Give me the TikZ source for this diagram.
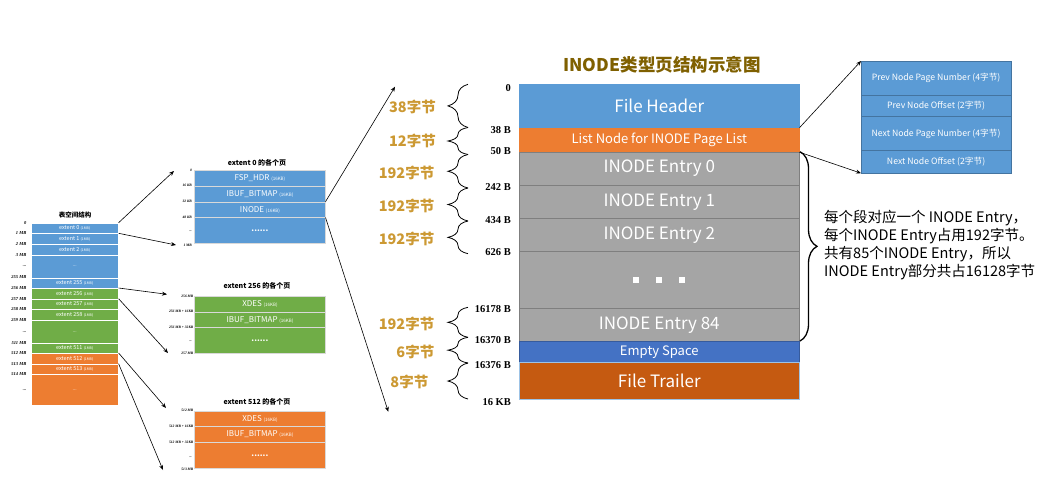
\documentclass[tikz,border=0pt]{standalone}
\usepackage{fontspec}
\setmainfont{Noto Sans CJK SC}
\newfontfamily\tnr{Liberation Serif}
\usetikzlibrary{arrows.meta,decorations.pathreplacing}
\definecolor{cblue}{HTML}{5B9BD5}
\definecolor{corange}{HTML}{ED7D31}
\definecolor{cgreen}{HTML}{70AD47}
\definecolor{cgray}{HTML}{A5A5A5}
\definecolor{cgrayline}{HTML}{7F7F7F}
\definecolor{cempty}{HTML}{4472C4}
\definecolor{ctrail}{HTML}{C55A11}
\definecolor{cgold}{RGB}{204,153,51}
\definecolor{ctitle}{RGB}{127,96,0}
\newcommand\fsz[1]{\fontsize{#1}{#1}\selectfont}
\begin{document}
\begin{tikzpicture}[x=1pt,y=-1pt,
  lrow/.style={draw=white, line width=0.6pt, anchor=north west, inner sep=0pt, text=white, minimum width=87.3pt},
  xrow/.style={draw=white!85!black, line width=0.5pt, anchor=north west, inner sep=0pt, text=white, minimum width=130.7pt},
  prow/.style={anchor=north west, inner sep=0pt, minimum width=280pt, text=white, line width=0.5pt},
  rrow/.style={anchor=north west, inner sep=0pt, minimum width=149.7pt, text=white, fill=cblue, draw=cblue!75!black, line width=0.5pt, font=\fsz{8.7}},
  tlab/.style={anchor=east, inner sep=0pt, font=\tnr\bfseries\itshape\fsz{4.5}},
  xlab/.style={anchor=east, inner sep=0pt, font=\tnr\bfseries\itshape\fsz{3.6}},
  olab/.style={anchor=east, inner sep=0pt, font=\tnr\bfseries\fsz{10.5}},
  glab/.style={anchor=east, inner sep=0pt, text=cgold, font=\bfseries\fsz{14.5}},
  xtitle/.style={inner sep=0pt, font=\bfseries\fsz{7}},
  conn/.style={-{Stealth[length=5pt,width=4pt]}, line width=0.6pt, black},
  brc/.style={decorate, decoration={brace, amplitude=20pt}, line width=0.8pt},
  bigbrc/.style={decorate, decoration={brace, amplitude=17pt}, line width=1.3pt}
]
\useasboundingbox[fill=white] (0,0) rectangle (1064,484);

% ---------- tablespace column ----------
\node[inner sep=0pt, font=\bfseries\fsz{6.5}] (ttitle) at (75,215) {表空间结构};
\node[lrow, fill=cblue, minimum height=10.6pt] (t0) at (30.7,222.7) {\fsz{5.5}extent 0 \fsz{3.5}(1MB)};
\node[lrow, fill=cblue, minimum height=10.7pt] (t1) at (30.7,233.3) {\fsz{5.5}extent 1 \fsz{3.5}(1MB)};
\node[lrow, fill=cblue, minimum height=10.7pt] (t2) at (30.7,244) {\fsz{5.5}extent 2 \fsz{3.5}(1MB)};
\node[lrow, fill=cblue, minimum height=23pt] (td1) at (30.7,254.7) {\fsz{5}...};
\node[lrow, fill=cblue, minimum height=10.3pt] (t255) at (30.7,277.7) {\fsz{5.5}extent 255 \fsz{3.5}(1MB)};
\node[lrow, fill=cgreen, minimum height=10.7pt] (t256) at (30.7,288) {\fsz{5.5}extent 256 \fsz{3.5}(1MB)};
\node[lrow, fill=cgreen, minimum height=10.6pt] (t257) at (30.7,298.7) {\fsz{5.5}extent 257 \fsz{3.5}(1MB)};
\node[lrow, fill=cgreen, minimum height=10.7pt] (t258) at (30.7,309.3) {\fsz{5.5}extent 258 \fsz{3.5}(1MB)};
\node[lrow, fill=cgreen, minimum height=23pt] (td2) at (30.7,320) {\fsz{5}...};
\node[lrow, fill=cgreen, minimum height=10pt] (t511) at (30.7,343) {\fsz{5.5}extent 511 \fsz{3.5}(1MB)};
\node[lrow, fill=corange, minimum height=10.7pt] (t512) at (30.7,353) {\fsz{5.5}extent 512 \fsz{3.5}(1MB)};
\node[lrow, fill=corange, minimum height=10.3pt] (t513) at (30.7,363.7) {\fsz{5.5}extent 513 \fsz{3.5}(1MB)};
\node[lrow, fill=corange, minimum height=31pt] (td3) at (30.7,374) {\fsz{5}...};

\node[tlab] (l0) at (26.5,222.7) {0};
\node[tlab] (l1) at (26.5,233.3) {1 MB};
\node[tlab] (l2) at (26.5,244) {2 MB};
\node[tlab] (l3) at (26.5,254.7) {3 MB};
\node[tlab] (l4) at (26.5,265.7) {...};
\node[tlab] (l5) at (26.5,277.5) {255 MB};
\node[tlab] (l6) at (26.5,288) {256 MB};
\node[tlab] (l7) at (26.5,298.7) {257 MB};
\node[tlab] (l8) at (26.5,309.3) {258 MB};
\node[tlab] (l9) at (26.5,320.5) {259 MB};
\node[tlab] (l10) at (26.5,331.7) {...};
\node[tlab] (l11) at (26.5,343) {511 MB};
\node[tlab] (l12) at (26.5,353.5) {512 MB};
\node[tlab] (l13) at (26.5,363.7) {513 MB};
\node[tlab] (l14) at (26.5,374.5) {514 MB};
\node[tlab] (l15) at (26.5,390) {...};

% ---------- extent 0 ----------
\node[xtitle] (x0t) at (257,162.7) {extent 0 的各个页};
\node[xrow, fill=cblue, minimum height=15.7pt] (x0a) at (194.3,170) {\fsz{8}FSP\_HDR \fsz{4.5}(16KB)};
\node[xrow, fill=cblue, minimum height=16pt] (x0b) at (194.3,185.7) {\fsz{8}IBUF\_BITMAP \fsz{4.5}(16KB)};
\node[xrow, fill=cblue, minimum height=15.3pt] (x0c) at (194.3,201.7) {\fsz{8}INODE \fsz{4.5}(16KB)};
\node[xrow, fill=cblue, minimum height=26.3pt] (x0d) at (194.3,217) {\bfseries\fsz{8}......};
\node[xlab] (x0l0) at (192,170) {0};
\node[xlab] (x0l1) at (192,185.7) {16 KB};
\node[xlab] (x0l2) at (192,201.7) {32 KB};
\node[xlab] (x0l3) at (192,217) {48 KB};
\node[xlab] (x0l4) at (192,231.5) {...};
\node[xlab] (x0l5) at (192,245) {1 MB};

% ---------- extent 256 ----------
\node[xtitle] (x1t) at (257,286) {extent 256 的各个页};
\node[xrow, fill=cgreen, minimum height=15.7pt] (x1a) at (194.3,296) {\fsz{8}XDES \fsz{4.5}(16KB)};
\node[xrow, fill=cgreen, minimum height=15.6pt] (x1b) at (194.3,311.7) {\fsz{8}IBUF\_BITMAP \fsz{4.5}(16KB)};
\node[xrow, fill=cgreen, minimum height=26pt] (x1c) at (194.3,327.3) {\bfseries\fsz{8}......};
\node[xlab] (x1l0) at (193.5,296) {256 MB};
\node[xlab] (x1l1) at (193.5,311.7) {256 MB + 16KB};
\node[xlab] (x1l2) at (193.5,327.3) {256 MB + 32KB};
\node[xlab] (x1l3) at (192,341) {...};
\node[xlab] (x1l4) at (193.5,353.3) {257 MB};

% ---------- extent 512 ----------
\node[xtitle] (x2t) at (257,401.7) {extent 512 的各个页};
\node[xrow, fill=corange, minimum height=15.3pt] (x2a) at (194.3,410.7) {\fsz{8}XDES \fsz{4.5}(16KB)};
\node[xrow, fill=corange, minimum height=16pt] (x2b) at (194.3,426) {\fsz{8}IBUF\_BITMAP \fsz{4.5}(16KB)};
\node[xrow, fill=corange, minimum height=26.3pt] (x2c) at (194.3,442) {\bfseries\fsz{8}......};
\node[xlab] (x2l0) at (193.5,410.7) {512 MB};
\node[xlab] (x2l1) at (193.5,426) {512 MB + 16KB};
\node[xlab] (x2l2) at (193.5,442) {512 MB + 32KB};
\node[xlab] (x2l3) at (192,457) {...};
\node[xlab] (x2l4) at (193.5,469) {513 MB};

% ---------- connectors left ----------
\coordinate (a0) at (174,171);
\coordinate (a1) at (176,245);
\coordinate (a2) at (167,294.3);
\coordinate (a3) at (168,353);
\coordinate (a4) at (166,408);
\coordinate (a5) at (163,470);
\coordinate (b0) at (395,86.7);
\coordinate (b1) at (388.3,411.7);
\draw[conn] (t0.north east) -- (a0);
\draw[conn] (t1.north east) -- (a1);
\draw[conn] (t256.north east) -- (a2);
\draw[conn] (t257.north east) -- (a3);
\draw[conn] (t512.north east) -- (a4);
\draw[conn] (t513.north east) -- (a5);
\draw[conn] (x0c.north east) -- (b0);
\draw[conn] (x0c.south east) -- (b1);

% ---------- INODE page ----------
\node[inner sep=0pt, font=\bfseries\fsz{17.5}, text=ctitle] (title) at (662,65) {INODE类型页结构示意图};
\node[prow, fill=cblue, draw=cblue, minimum height=43.4pt, font=\fsz{17}] (fh) at (519,84.3) {File Header};
\node[prow, fill=corange, draw=corange, minimum height=24pt, font=\fsz{13}] (ln) at (519,127.7) {List Node for INODE Page List};
\node[prow, fill=cgray, draw=cgrayline, minimum height=33.3pt, font=\fsz{17}] (e0) at (519,151.7) {INODE Entry 0};
\node[prow, fill=cgray, draw=cgrayline, minimum height=33.3pt, font=\fsz{17}] (e1) at (519,185) {INODE Entry 1};
\node[prow, fill=cgray, draw=cgrayline, minimum height=32.7pt, font=\fsz{17}] (e2) at (519,218.3) {INODE Entry 2};
\node[prow, fill=cgray, draw=cgrayline, minimum height=57.3pt] (ed) at (519,251) {\rule{5.7pt}{5.7pt}\hspace{17.3pt}\rule{5.7pt}{5.7pt}\hspace{17.3pt}\rule{5.7pt}{5.7pt}};
\node[prow, fill=cgray, draw=cgrayline, minimum height=32.7pt, font=\fsz{17}] (e84) at (519,308.3) {INODE Entry 84};
\node[prow, fill=cempty, draw=cempty!80!black, minimum height=21.3pt, font=\fsz{13}] (es) at (519,341) {Empty Space};
\node[prow, fill=ctrail, draw=cblue!60!white, minimum height=37pt, font=\fsz{17}] (ft) at (519,362.3) {File Trailer};

\node[olab] (o0) at (511,87.7) {0};
\node[olab] (o1) at (511,130) {38 B};
\node[olab] (o2) at (511,151.5) {50 B};
\node[olab] (o3) at (511,186.7) {242 B};
\node[olab] (o4) at (511,220) {434 B};
\node[olab] (o5) at (511,252.3) {626 B};
\node[olab] (o6) at (511,309) {16178 B};
\node[olab] (o7) at (511,340) {16370 B};
\node[olab] (o8) at (511,365) {16376 B};
\node[olab] (o9) at (511,402) {16 KB};

\draw[brc] (468,127.5) -- (468,84.3);
\draw[brc] (468,154.5) -- (468,127.5);
\draw[brc] (468,188) -- (468,154.5);
\draw[brc] (468,221) -- (468,188);
\draw[brc] (468,253.7) -- (468,221);
\draw[brc] (468,337.3) -- (468,307.3);
\draw[brc] (468,363) -- (468,337.3);
\draw[brc] (468,399) -- (468,363);

\node[glab] (g0) at (436,106.7) {38字节};
\node[glab] (g1) at (436,141) {12字节};
\node[glab] (g2) at (434.5,172.7) {192字节};
\node[glab] (g3) at (434.5,205.7) {192字节};
\node[glab] (g4) at (434.5,239.3) {192字节};
\node[glab] (g5) at (434.5,324.3) {192字节};
\node[glab] (g6) at (434.5,351.7) {6字节};
\node[glab] (g7) at (428.5,381.7) {8字节};

% ---------- right side ----------
\draw[bigbrc] (800,151.7) -- (800,341);
\node[anchor=west, inner sep=0pt, align=left, font=\fontsize{14.5}{17.7}\selectfont] (note) at (824,245) {每个段对应一个 INODE Entry，\\每个INODE Entry占用192字节。\\共有85个INODE Entry，所以\\INODE Entry部分共占16128字节};

\node[rrow, minimum height=34.3pt] (pp) at (861,61) {Prev Node Page Number (4字节)};
\node[rrow, minimum height=21pt] (po) at (861,95.3) {Prev Node Offset (2字节)};
\node[rrow, minimum height=34pt] (np) at (861,116.3) {Next Node Page Number (4字节)};
\node[rrow, minimum height=22.4pt] (no) at (861,150.3) {Next Node Offset (2字节)};

\draw[conn] (ln.north east) -- (pp.north west);
\draw[conn] (ln.south east) -- (no.south west);
\end{tikzpicture}
\end{document}
